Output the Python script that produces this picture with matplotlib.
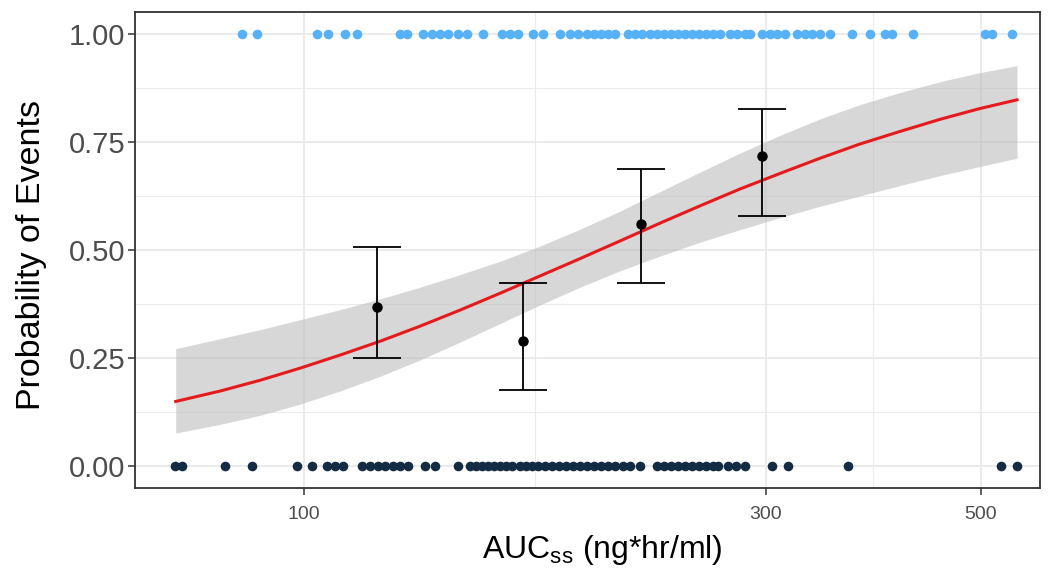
import matplotlib
matplotlib.use('Agg')
import matplotlib.pyplot as plt
from matplotlib.ticker import NullFormatter
import numpy as np

# observed AUCss for subjects without / with an event
auc_no_event = [73.6, 74.8, 82.9, 88.4, 98.3, 101.9, 105.6, 107.6, 109.7, 114.8, 117.0,
                119.2, 121.2, 123.6, 125.7, 128.1, 133.4, 136.6, 144.2, 148.4, 150.6,
                152.7, 154.9, 157.1, 159.4, 161.7, 164.0, 167.2, 169.6, 172.0, 174.5,
                177.4, 180.4, 183.4, 186.5, 189.6, 192.8, 196.1, 199.3, 202.7, 206.1,
                209.6, 213.6, 217.2, 222.4, 231.6, 235.4, 239.4, 243.4, 247.5, 251.7,
                255.9, 260.2, 264.6, 267.7, 274.2, 279.4, 285.5, 304.4, 316.2, 364.7,
                524.9, 545.2]
auc_event = [86.2, 89.4, 103.1, 105.9, 110.2, 113.4, 125.7, 127.7, 132.7, 135.6, 138.2,
             140.9, 144.2, 147.4, 153.1, 160.2, 163.2, 166.4, 172.4, 176.6, 183.9, 188.3,
             191.9, 196.1, 199.3, 202.7, 206.1, 209.6, 216.1, 219.8, 223.4, 227.7, 231.6,
             235.4, 239.4, 243.4, 247.5, 251.7, 255.9, 260.2, 264.6, 269.0, 275.5, 280.1,
             285.5, 288.9, 297.3, 303.0, 308.1, 314.0, 323.1, 329.3, 334.8, 341.2, 349.5,
             368.2, 384.3, 398.3, 405.0, 425.7, 505.3, 513.8, 538.8]

# logistic fit with 95% band
fit_auc = [73.7, 81.9, 90.1, 99.1, 108.9, 119.8, 131.8, 144.9, 159.4, 175.3, 192.8,
           212.1, 233.2, 256.5, 282.1, 310.3, 341.2, 375.3, 412.8, 454.0, 499.3, 545.2]
fit_prob = [0.150, 0.174, 0.199, 0.227, 0.257, 0.289, 0.324, 0.361, 0.400, 0.440, 0.480,
            0.521, 0.562, 0.602, 0.641, 0.677, 0.712, 0.745, 0.774, 0.802, 0.827, 0.847]
fit_upper = [0.272, 0.295, 0.316, 0.339, 0.362, 0.387, 0.414, 0.443, 0.474, 0.509, 0.548,
             0.590, 0.635, 0.680, 0.724, 0.765, 0.803, 0.836, 0.864, 0.889, 0.910, 0.926]
fit_lower = [0.077, 0.097, 0.118, 0.144, 0.174, 0.208, 0.246, 0.287, 0.330, 0.373, 0.414,
             0.452, 0.486, 0.518, 0.547, 0.575, 0.601, 0.625, 0.649, 0.672, 0.693, 0.712]

# observed proportion per quartile bin
bin_auc = [119.0, 168.3, 222.9, 297.2]
bin_prob = [0.368, 0.290, 0.560, 0.717]
bin_lower = [0.251, 0.177, 0.423, 0.579]
bin_upper = [0.506, 0.423, 0.688, 0.825]

SANS = ['Liberation Sans', 'DejaVu Sans']

fig = plt.figure(figsize=(10.49, 5.69), dpi=100)
ax = fig.add_axes([135/1049, 1 - 488/569, 905/1049, 476/569])

ax.fill_between(fit_auc, fit_lower, fit_upper, color='#bdbdbd', alpha=0.6, lw=0, zorder=2)
ax.plot(fit_auc, fit_prob, color='#e41a1c', lw=2.2, zorder=3)

ax.scatter(auc_no_event, np.zeros(len(auc_no_event)), s=48, color='#132B43', lw=0, zorder=4)
ax.scatter(auc_event, np.ones(len(auc_event)), s=48, color='#56B1F7', lw=0, zorder=4)

yerr = [np.array(bin_prob) - np.array(bin_lower), np.array(bin_upper) - np.array(bin_prob)]
ax.errorbar(bin_auc, bin_prob, yerr=yerr, fmt='o', color='black', ms=6.5,
            elinewidth=1.3, capsize=17, capthick=1.3, zorder=5)

ax.set_xscale('log')
ax.set_xlim(66.9, 575.8)
ax.set_ylim(-0.05, 1.05)
ax.set_xticks([100, 300, 500])
ax.set_xticks([173.2, 387.3], minor=True)
ax.set_xticklabels(['100', '300', '500'])
ax.xaxis.set_minor_formatter(NullFormatter())
ax.set_yticks([0, 0.25, 0.5, 0.75, 1.0])
ax.set_yticks([0.125, 0.375, 0.625, 0.875], minor=True)
ax.set_yticklabels(['0.00', '0.25', '0.50', '0.75', '1.00'])

ax.grid(which='major', color='#ebebeb', lw=1.4, zorder=0)
ax.grid(which='minor', color='#ebebeb', lw=0.8, zorder=0)
ax.set_axisbelow(True)
ax.tick_params(which='minor', length=0)
ax.tick_params(which='major', length=5, width=1.1, color='#333333')
ax.tick_params(axis='y', pad=2)
ax.tick_params(axis='x', pad=8)
for s in ax.spines.values():
    s.set_color('#333333')
    s.set_linewidth(1.3)

for lab in ax.get_yticklabels():
    lab.set_family(SANS)
    lab.set_fontsize(21)
    lab.set_color('#4d4d4d')
for lab in ax.get_xticklabels():
    lab.set_family(SANS)
    lab.set_fontsize(14)
    lab.set_color('#4d4d4d')

ax.set_ylabel('Probability of Events', fontsize=24.5, family=SANS)
ax.yaxis.set_label_coords(-0.097, 0.49)
ax.set_xlabel(r'AUC$_{\mathregular{ss}}$ (ng*hr/ml)', fontsize=23, family=SANS)
ax.xaxis.set_label_coords(0.516, -0.094)

fig.savefig('out.png', dpi=100)
